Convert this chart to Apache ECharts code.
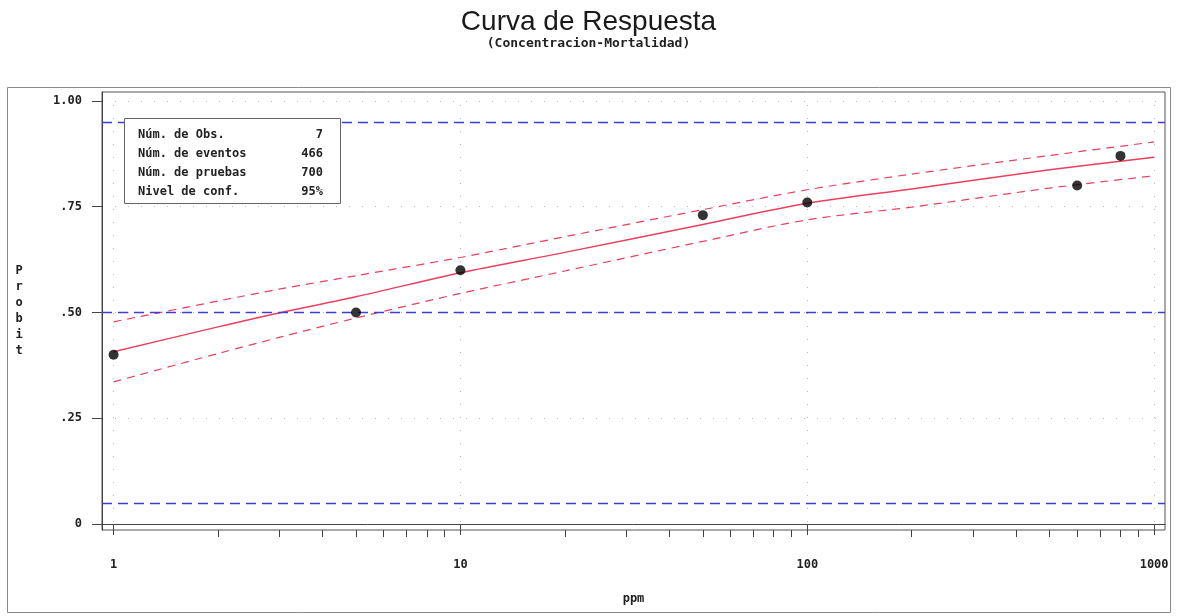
<!DOCTYPE html>
<html lang="es">
<head>
<meta charset="UTF-8">
<title>Curva de Respuesta</title>
<script src="https://cdn.jsdelivr.net/npm/echarts@6/dist/echarts.min.js"></script>
<style>
  html, body { margin: 0; padding: 0; background: #fff; }
  #main { width: 1177px; height: 616px; }
</style>
</head>
<body>
<div id="main"></div>
<script>
// observaciones
var obsPpm = [1, 5, 10, 50, 100, 600, 800];
var obsProbit = [0.40, 0.50, 0.60, 0.73, 0.76, 0.80, 0.87];

// curva ajustada y banda de confianza
var curvePpm = [1, 2, 3, 5, 10, 20, 50, 100, 200, 500, 1000];
var fitProbit = [0.407, 0.466, 0.499, 0.537, 0.594, 0.642, 0.708, 0.758, 0.792, 0.837, 0.867];
var upperProbit = [0.478, 0.527, 0.555, 0.587, 0.630, 0.679, 0.743, 0.790, 0.827, 0.871, 0.903];
var lowerProbit = [0.336, 0.403, 0.441, 0.487, 0.545, 0.598, 0.668, 0.719, 0.749, 0.794, 0.823];

var refLines = [0.95, 0.5, 0.05];
var yTicks = [0, 0.25, 0.5, 0.75, 1];
var xMajor = [1, 10, 100, 1000];
var xMinor = [2, 3, 4, 5, 6, 7, 8, 9, 20, 30, 40, 50, 60, 70, 80, 90, 200, 300, 400, 500, 600, 700, 800, 900];

var statsLabels = ['Núm. de Obs.', 'Núm. de eventos', 'Núm. de pruebas', 'Nivel de conf.'];
var statsValues = ['7', '466', '700', '95%'];

var mono = '"DejaVu Sans Mono", monospace';
var redC = '#e8405e';
var blueC = '#3c3cdc';

function pairs(xs, ys) {
  return xs.map(function (x, i) { return [x, ys[i]]; });
}

var chart = echarts.init(document.getElementById('main'));

var graphics = [
  { type: 'rect', z: -1, shape: { x: 7.5, y: 87.5, width: 1163, height: 525 },
    style: { fill: 'none', stroke: '#8a8a8a', lineWidth: 1 } },
  { type: 'rect', z: 100, shape: { x: 124.5, y: 118.5, width: 216, height: 85 },
    style: { fill: '#fff', stroke: '#666', lineWidth: 1 } }
];
statsLabels.forEach(function (t, i) {
  graphics.push({ type: 'text', z: 101, x: 138, y: 135 + i * 19,
    style: { text: t, font: 'bold 12px ' + mono, fill: '#222', verticalAlign: 'middle' } });
  graphics.push({ type: 'text', z: 101, x: 323, y: 135 + i * 19,
    style: { text: statsValues[i], font: 'bold 12px ' + mono, fill: '#222', align: 'right', verticalAlign: 'middle' } });
});

var option = {
  animation: false,
  title: {
    text: 'Curva de Respuesta',
    subtext: '(Concentracion-Mortalidad)',
    left: 'center',
    top: 3,
    itemGap: 1,
    textStyle: { fontFamily: '"Liberation Sans", Arial, sans-serif', fontSize: 28, fontWeight: 'normal', color: '#1a1a1a' },
    subtextStyle: { fontFamily: mono, fontSize: 13, fontWeight: 'bold', color: '#222' }
  },
  graphic: graphics,
  grid: {
    left: 102, right: 12, top: 92, bottom: 86,
    show: true, borderColor: '#555', borderWidth: 1
  },
  xAxis: [
    {
      type: 'log', min: 0.926, max: 1075,
      name: 'ppm', nameLocation: 'middle', nameGap: 63,
      nameTextStyle: { fontFamily: mono, fontSize: 12, fontWeight: 'bold', color: '#222' },
      axisLine: { lineStyle: { color: '#444' } },
      axisTick: { customValues: xMajor, length: 11, lineStyle: { color: '#444' } },
      axisLabel: {
        customValues: xMajor, margin: 29, fontFamily: mono, fontSize: 12, fontWeight: 'bold', color: '#222',
        formatter: function (v) { return String(Math.round(v)); }
      },
      splitLine: { show: true, lineStyle: { color: '#b8b8b8', type: [1, 12] } }
    },
    {
      type: 'log', min: 0.926, max: 1075, position: 'bottom',
      axisLine: { show: false },
      axisTick: { customValues: xMinor, length: 7, lineStyle: { color: '#444' } },
      axisLabel: { show: false },
      splitLine: { show: false }
    }
  ],
  yAxis: {
    type: 'value', min: -0.014, max: 1.021,
    name: 'P\nr\no\nb\ni\nt', nameLocation: 'middle', nameRotate: 0, nameGap: 83,
    nameTextStyle: { fontFamily: mono, fontSize: 12, fontWeight: 'bold', color: '#222', lineHeight: 16, align: 'center', padding: [14, 0, 0, 0] },
    axisLine: { lineStyle: { color: '#444' } },
    axisTick: { customValues: yTicks, length: 10, lineStyle: { color: '#444' } },
    axisLabel: {
      customValues: yTicks, margin: 20, fontFamily: mono, fontSize: 12, fontWeight: 'bold', color: '#222',
      formatter: function (v) {
        if (v === 0) return '0';
        var s = v.toFixed(2);
        return s.charAt(0) === '0' ? s.slice(1) : s;
      }
    },
    splitLine: { show: true, lineStyle: { color: '#b8b8b8', type: [1, 12] } }
  },
  series: [
    {
      name: 'Referencia', type: 'line', data: [], silent: true, z: 3,
      markLine: {
        silent: true, symbol: 'none', label: { show: false },
        emphasis: { disabled: true },
        lineStyle: { color: blueC, type: [10, 6], width: 1.4, opacity: 1 },
        data: refLines.map(function (v) { return { yAxis: v }; })
      }
    },
    {
      name: 'Superior', type: 'line', smooth: 0.3, symbol: 'none',
      data: pairs(curvePpm, upperProbit),
      lineStyle: { color: redC, width: 1.2, type: [8, 6] }
    },
    {
      name: 'Ajuste', type: 'line', smooth: 0.3, symbol: 'none',
      data: pairs(curvePpm, fitProbit),
      lineStyle: { color: redC, width: 1.5 }
    },
    {
      name: 'Inferior', type: 'line', smooth: 0.3, symbol: 'none',
      data: pairs(curvePpm, lowerProbit),
      lineStyle: { color: redC, width: 1.2, type: [8, 6] }
    },
    {
      name: 'Obs', type: 'scatter', symbol: 'circle', symbolSize: 10, z: 5,
      data: pairs(obsPpm, obsProbit),
      itemStyle: { color: '#000' }
    }
  ]
};

chart.setOption(option);
</script>
</body>
</html>
